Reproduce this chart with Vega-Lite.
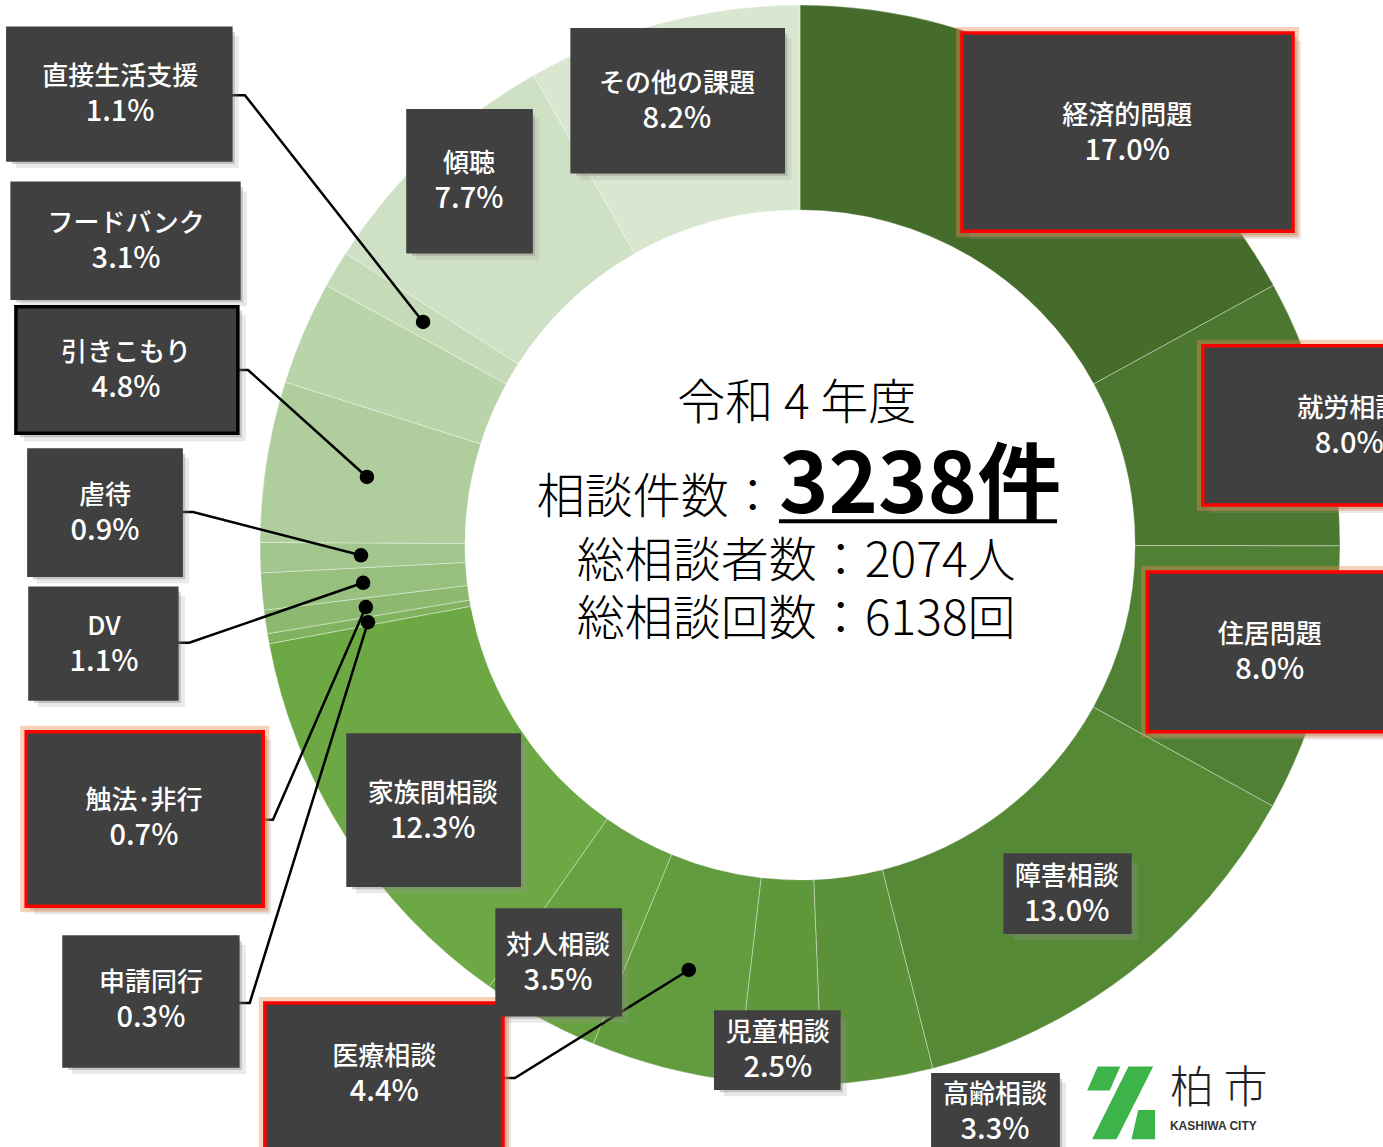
{
  "$schema": "https://vega.github.io/schema/vega-lite/v6.json",
  "width": 1383,
  "height": 1147,
  "padding": 0,
  "autosize": "none",
  "background": "#ffffff",
  "config": {"view": {"stroke": null}, "font": "Noto Sans CJK JP"},
  "datasets": {
    "seg": [
      {"idx": 1, "cat": "経済的問題", "share": 0.170},
      {"idx": 2, "cat": "就労相談", "share": 0.080},
      {"idx": 3, "cat": "住居問題", "share": 0.080},
      {"idx": 4, "cat": "障害相談", "share": 0.130},
      {"idx": 5, "cat": "高齢相談", "share": 0.033},
      {"idx": 6, "cat": "児童相談", "share": 0.025},
      {"idx": 7, "cat": "医療相談", "share": 0.044},
      {"idx": 8, "cat": "対人相談", "share": 0.035},
      {"idx": 9, "cat": "家族間相談", "share": 0.123},
      {"idx": 10, "cat": "申請同行", "share": 0.003},
      {"idx": 11, "cat": "触法･非行", "share": 0.007},
      {"idx": 12, "cat": "DV", "share": 0.011},
      {"idx": 13, "cat": "虐待", "share": 0.009},
      {"idx": 14, "cat": "引きこもり", "share": 0.048},
      {"idx": 15, "cat": "フードバンク", "share": 0.031},
      {"idx": 16, "cat": "直接生活支援", "share": 0.011},
      {"idx": 17, "cat": "傾聴", "share": 0.077},
      {"idx": 18, "cat": "その他の課題", "share": 0.082}
    ],
    "box": [
      {"cat": "経済的問題", "x1": 30.0, "x2": 91.3, "y1": 94.8, "y2": 58.1, "cx": 60.6, "cy": 76.3, "frame": "red"},
      {"cat": "就労相談", "x1": 74.6, "x2": 129.6, "y1": 36.9, "y2": 7.4, "cx": 101.7, "cy": 22.0, "frame": "red"},
      {"cat": "住居問題", "x1": 64.3, "x2": 110.2, "y1": -5.0, "y2": -34.6, "cx": 87.0, "cy": -19.8, "frame": "red"},
      {"cat": "障害相談", "x1": 38.0, "x2": 61.1, "y1": -57.4, "y2": -71.7, "cx": 49.4, "cy": -64.6, "frame": "none"},
      {"cat": "高齢相談", "x1": 24.6, "x2": 47.8, "y1": -98.1, "y2": -112.0, "cx": 36.1, "cy": -105.0, "frame": "none"},
      {"cat": "児童相談", "x1": -15.6, "x2": 7.2, "y1": -86.5, "y2": -100.6, "cx": -4.1, "cy": -93.5, "frame": "none"},
      {"cat": "医療相談", "x1": -99.1, "x2": -55.0, "y1": -84.8, "y2": -112.0, "cx": -77.0, "cy": -98.0, "frame": "red"},
      {"cat": "対人相談", "x1": -56.1, "x2": -33.3, "y1": -67.6, "y2": -87.0, "cx": -44.8, "cy": -77.4, "frame": "none"},
      {"cat": "家族間相談", "x1": -83.7, "x2": -52.0, "y1": -35.2, "y2": -63.0, "cx": -68.0, "cy": -49.3, "frame": "none"},
      {"cat": "申請同行", "x1": -136.3, "x2": -104.1, "y1": -72.6, "y2": -96.5, "cx": -120.2, "cy": -84.3, "frame": "none"},
      {"cat": "触法･非行", "x1": -143.3, "x2": -99.4, "y1": -34.6, "y2": -66.9, "cx": -121.5, "cy": -50.6, "frame": "red"},
      {"cat": "DV", "x1": -142.6, "x2": -115.4, "y1": -8.0, "y2": -28.5, "cx": -128.9, "cy": -18.3, "frame": "none"},
      {"cat": "虐待", "x1": -142.8, "x2": -114.6, "y1": 17.6, "y2": -5.6, "cx": -128.7, "cy": 5.9, "frame": "none"},
      {"cat": "引きこもり", "x1": -145.2, "x2": -104.1, "y1": 44.1, "y2": 20.7, "cx": -124.8, "cy": 32.4, "frame": "black"},
      {"cat": "フードバンク", "x1": -145.9, "x2": -103.9, "y1": 67.0, "y2": 45.7, "cx": -124.8, "cy": 56.3, "frame": "none"},
      {"cat": "直接生活支援", "x1": -146.7, "x2": -105.4, "y1": 95.7, "y2": 71.3, "cx": -125.9, "cy": 83.5, "frame": "none"},
      {"cat": "傾聴", "x1": -72.6, "x2": -49.8, "y1": 80.4, "y2": 54.3, "cx": -61.3, "cy": 67.4, "frame": "none"},
      {"cat": "その他の課題", "x1": -42.2, "x2": -3.1, "y1": 95.4, "y2": 69.1, "cx": -22.8, "cy": 82.2, "frame": "none"}
    ],
    "leaders": [
      {"cat": "直接生活支援", "step": 1, "x": -105.4, "y": 83.3},
      {"cat": "直接生活支援", "step": 2, "x": -102.8, "y": 83.3},
      {"cat": "直接生活支援", "step": 3, "x": -69.8, "y": 41.3},
      {"cat": "引きこもり", "step": 1, "x": -104.1, "y": 32.4},
      {"cat": "引きこもり", "step": 2, "x": -102.2, "y": 32.4},
      {"cat": "引きこもり", "step": 3, "x": -80.2, "y": 12.6},
      {"cat": "虐待", "step": 1, "x": -114.6, "y": 6.1},
      {"cat": "虐待", "step": 2, "x": -112.4, "y": 6.1},
      {"cat": "虐待", "step": 3, "x": -81.3, "y": -1.9},
      {"cat": "DV", "step": 1, "x": -115.4, "y": -18.1},
      {"cat": "DV", "step": 2, "x": -113.1, "y": -18.1},
      {"cat": "DV", "step": 3, "x": -80.9, "y": -7.0},
      {"cat": "触法･非行", "step": 1, "x": -99.4, "y": -50.9},
      {"cat": "触法･非行", "step": 2, "x": -97.6, "y": -50.9},
      {"cat": "触法･非行", "step": 3, "x": -80.4, "y": -11.5},
      {"cat": "申請同行", "step": 1, "x": -104.1, "y": -84.8},
      {"cat": "申請同行", "step": 2, "x": -101.9, "y": -84.8},
      {"cat": "申請同行", "step": 3, "x": -80.0, "y": -14.3},
      {"cat": "医療相談", "step": 1, "x": -55.0, "y": -98.7},
      {"cat": "医療相談", "step": 2, "x": -52.8, "y": -98.7},
      {"cat": "医療相談", "step": 3, "x": -20.6, "y": -78.7}
    ]
  },
  "layer": [
    {
      "data": {"name": "seg"},
      "mark": {"type": "arc", "outerRadius": 540, "innerRadius": 335, "stroke": "#ffffff", "strokeWidth": 1, "strokeOpacity": 0.35},
      "encoding": {
        "x": {"datum": 0, "type": "quantitative", "scale": {"domain": [-148.148, 107.963], "nice": false, "zero": false}, "axis": null},
        "y": {"datum": 0, "type": "quantitative", "scale": {"domain": [-111.481, 100.926], "nice": false, "zero": false}, "axis": null},
        "theta": {"field": "share", "type": "quantitative", "stack": true},
        "order": {"field": "idx", "type": "quantitative"},
        "color": {
          "field": "cat", "type": "nominal", "legend": null,
          "scale": {
            "domain": ["経済的問題", "就労相談", "住居問題", "障害相談", "高齢相談", "児童相談", "医療相談", "対人相談", "家族間相談", "申請同行", "触法･非行", "DV", "虐待", "引きこもり", "フードバンク", "直接生活支援", "傾聴", "その他の課題"],
            "range": ["#456c2b", "#4b7730", "#508033", "#568935", "#5b9138", "#5f973b", "#639c3e", "#67a141", "#6ca844", "#80b25f", "#8cb86f", "#97bf7e", "#a3c68e", "#b0cd9d", "#bad4aa", "#c5dbb8", "#cfe1c5", "#d9e7d1"]
          }
        }
      }
    },
    {
      "data": {"name": "leaders"},
      "mark": {"type": "line", "color": "#000000", "strokeWidth": 2.5},
      "encoding": {
        "x": {"field": "x", "type": "quantitative", "scale": {"domain": [-148.148, 107.963], "nice": false, "zero": false}, "axis": null},
        "y": {"field": "y", "type": "quantitative", "scale": {"domain": [-111.481, 100.926], "nice": false, "zero": false}, "axis": null},
        "detail": {"field": "cat", "type": "nominal"},
        "order": {"field": "step", "type": "quantitative"}
      }
    },
    {
      "data": {"name": "leaders"},
      "transform": [{"filter": "datum.step == 3"}],
      "mark": {"type": "circle", "size": 210, "color": "#000000", "opacity": 1},
      "encoding": {
        "x": {"field": "x", "type": "quantitative", "scale": {"domain": [-148.148, 107.963], "nice": false, "zero": false}, "axis": null},
        "y": {"field": "y", "type": "quantitative", "scale": {"domain": [-111.481, 100.926], "nice": false, "zero": false}, "axis": null}
      }
    },
    {
      "data": {"name": "box"},
      "mark": {"type": "rect", "fill": "#9a9a9a", "opacity": 0.22, "xOffset": 8, "x2Offset": 8, "yOffset": 8, "y2Offset": 8},
      "encoding": {
        "x": {"field": "x1", "type": "quantitative", "scale": {"domain": [-148.148, 107.963], "nice": false, "zero": false}, "axis": null},
        "x2": {"field": "x2"},
        "y": {"field": "y1", "type": "quantitative", "scale": {"domain": [-111.481, 100.926], "nice": false, "zero": false}, "axis": null},
        "y2": {"field": "y2"}
      }
    },
    {
      "data": {"name": "box"},
      "mark": {"type": "rect", "fill": "#7a7a7a", "opacity": 0.35, "xOffset": 4, "x2Offset": 4, "yOffset": 4, "y2Offset": 4},
      "encoding": {
        "x": {"field": "x1", "type": "quantitative", "scale": {"domain": [-148.148, 107.963], "nice": false, "zero": false}, "axis": null},
        "x2": {"field": "x2"},
        "y": {"field": "y1", "type": "quantitative", "scale": {"domain": [-111.481, 100.926], "nice": false, "zero": false}, "axis": null},
        "y2": {"field": "y2"}
      }
    },
    {
      "data": {"name": "box"},
      "transform": [{"filter": "datum.frame == 'red'"}],
      "mark": {"type": "rect", "fill": "#000000", "fillOpacity": 0, "stroke": "#e98a4f", "strokeWidth": 12, "strokeOpacity": 0.4},
      "encoding": {
        "x": {"field": "x1", "type": "quantitative", "scale": {"domain": [-148.148, 107.963], "nice": false, "zero": false}, "axis": null},
        "x2": {"field": "x2"},
        "y": {"field": "y1", "type": "quantitative", "scale": {"domain": [-111.481, 100.926], "nice": false, "zero": false}, "axis": null},
        "y2": {"field": "y2"}
      }
    },
    {
      "data": {"name": "box"},
      "mark": {"type": "rect", "fill": "#404040", "strokeWidth": 3.5},
      "encoding": {
        "x": {"field": "x1", "type": "quantitative", "scale": {"domain": [-148.148, 107.963], "nice": false, "zero": false}, "axis": null},
        "x2": {"field": "x2"},
        "y": {"field": "y1", "type": "quantitative", "scale": {"domain": [-111.481, 100.926], "nice": false, "zero": false}, "axis": null},
        "y2": {"field": "y2"},
        "stroke": {"field": "frame", "type": "nominal", "legend": null, "scale": {"domain": ["red", "black", "none"], "range": ["#ff0000", "#000000", "#404040"]}}
      }
    },
    {
      "data": {"name": "box"},
      "mark": {"type": "text", "color": "#ffffff", "fontSize": 26, "fontWeight": 500, "font": "Noto Sans CJK JP", "dy": -17, "align": "center", "baseline": "middle"},
      "encoding": {
        "x": {"field": "cx", "type": "quantitative", "scale": {"domain": [-148.148, 107.963], "nice": false, "zero": false}, "axis": null},
        "y": {"field": "cy", "type": "quantitative", "scale": {"domain": [-111.481, 100.926], "nice": false, "zero": false}, "axis": null},
        "text": {"field": "cat", "type": "nominal"}
      }
    },
    {
      "data": {"name": "box"},
      "transform": [{"lookup": "cat", "from": {"data": {"name": "seg"}, "key": "cat", "fields": ["share"]}}],
      "mark": {"type": "text", "color": "#ffffff", "fontSize": 29, "fontWeight": 500, "font": "Noto Sans CJK JP", "dy": 18, "align": "center", "baseline": "middle"},
      "encoding": {
        "x": {"field": "cx", "type": "quantitative", "scale": {"domain": [-148.148, 107.963], "nice": false, "zero": false}, "axis": null},
        "y": {"field": "cy", "type": "quantitative", "scale": {"domain": [-111.481, 100.926], "nice": false, "zero": false}, "axis": null},
        "text": {"field": "share", "type": "quantitative", "format": ".1%"}
      }
    },
    {
      "data": {"values": [{"t": "令和 4 年度", "x": -0.6, "y": 25.9}, {"t": "総相談者数：2074人", "x": -0.7, "y": -3.3}, {"t": "総相談回数：6138回", "x": -0.7, "y": -14.1}]},
      "mark": {"type": "text", "color": "#000000", "fontSize": 48, "fontWeight": 300, "font": "Noto Sans CJK JP", "align": "center", "baseline": "middle"},
      "encoding": {
        "x": {"field": "x", "type": "quantitative", "scale": {"domain": [-148.148, 107.963], "nice": false, "zero": false}, "axis": null},
        "y": {"field": "y", "type": "quantitative", "scale": {"domain": [-111.481, 100.926], "nice": false, "zero": false}, "axis": null},
        "text": {"field": "t", "type": "nominal"}
      }
    },
    {
      "data": {"values": [{"t": "相談件数：", "x": -4.3, "y": 5.9}]},
      "mark": {"type": "text", "color": "#000000", "fontSize": 48, "fontWeight": 300, "font": "Noto Sans CJK JP", "align": "right", "baseline": "alphabetic"},
      "encoding": {
        "x": {"field": "x", "type": "quantitative", "scale": {"domain": [-148.148, 107.963], "nice": false, "zero": false}, "axis": null},
        "y": {"field": "y", "type": "quantitative", "scale": {"domain": [-111.481, 100.926], "nice": false, "zero": false}, "axis": null},
        "text": {"field": "t", "type": "nominal"}
      }
    },
    {
      "data": {"values": [{"t": "3238件", "x": -3.9, "y": 5.9}]},
      "mark": {"type": "text", "color": "#000000", "fontSize": 84, "fontWeight": "bold", "font": "Noto Sans CJK JP", "align": "left", "baseline": "alphabetic"},
      "encoding": {
        "x": {"field": "x", "type": "quantitative", "scale": {"domain": [-148.148, 107.963], "nice": false, "zero": false}, "axis": null},
        "y": {"field": "y", "type": "quantitative", "scale": {"domain": [-111.481, 100.926], "nice": false, "zero": false}, "axis": null},
        "text": {"field": "t", "type": "nominal"}
      }
    },
    {
      "data": {"values": [{"x": -3.9, "x2": 47.6, "y": 4.4}]},
      "mark": {"type": "rule", "color": "#000000", "strokeWidth": 4},
      "encoding": {
        "x": {"field": "x", "type": "quantitative", "scale": {"domain": [-148.148, 107.963], "nice": false, "zero": false}, "axis": null},
        "x2": {"field": "x2"},
        "y": {"field": "y", "type": "quantitative", "scale": {"domain": [-111.481, 100.926], "nice": false, "zero": false}, "axis": null}
      }
    },
    {
      "data": {"values": [{"x": 59.3, "y": -103.1}]},
      "mark": {"type": "point", "filled": true, "fill": "#3cb44a", "opacity": 1, "strokeWidth": 0, "size": 5625, "shape": "M -0.6 -0.94 L 0.0 -0.94 L -0.28 -0.3 L -0.88 -0.3 Z M 0.22 -0.94 L 0.88 -0.94 L -0.1 1 L -0.75 1 Z M 0.48 0.22 L 0.93 0.22 L 0.93 1 L 0.3 1 Z"},
      "encoding": {
        "x": {"field": "x", "type": "quantitative", "scale": {"domain": [-148.148, 107.963], "nice": false, "zero": false}, "axis": null},
        "y": {"field": "y", "type": "quantitative", "scale": {"domain": [-111.481, 100.926], "nice": false, "zero": false}, "axis": null}
      }
    },
    {
      "data": {"values": [{"t": "柏 市", "x": 68.5, "y": -100.9}]},
      "mark": {"type": "text", "color": "#222222", "fontSize": 44, "fontWeight": 300, "font": "Noto Sans CJK JP", "align": "left", "baseline": "middle"},
      "encoding": {
        "x": {"field": "x", "type": "quantitative", "scale": {"domain": [-148.148, 107.963], "nice": false, "zero": false}, "axis": null},
        "y": {"field": "y", "type": "quantitative", "scale": {"domain": [-111.481, 100.926], "nice": false, "zero": false}, "axis": null},
        "text": {"field": "t", "type": "nominal"}
      }
    },
    {
      "data": {"values": [{"t": "KASHIWA CITY", "x": 68.5, "y": -107.6}]},
      "mark": {"type": "text", "color": "#333333", "fontSize": 12, "fontWeight": "bold", "font": "Liberation Sans", "align": "left", "baseline": "middle"},
      "encoding": {
        "x": {"field": "x", "type": "quantitative", "scale": {"domain": [-148.148, 107.963], "nice": false, "zero": false}, "axis": null},
        "y": {"field": "y", "type": "quantitative", "scale": {"domain": [-111.481, 100.926], "nice": false, "zero": false}, "axis": null},
        "text": {"field": "t", "type": "nominal"}
      }
    }
  ]
}
